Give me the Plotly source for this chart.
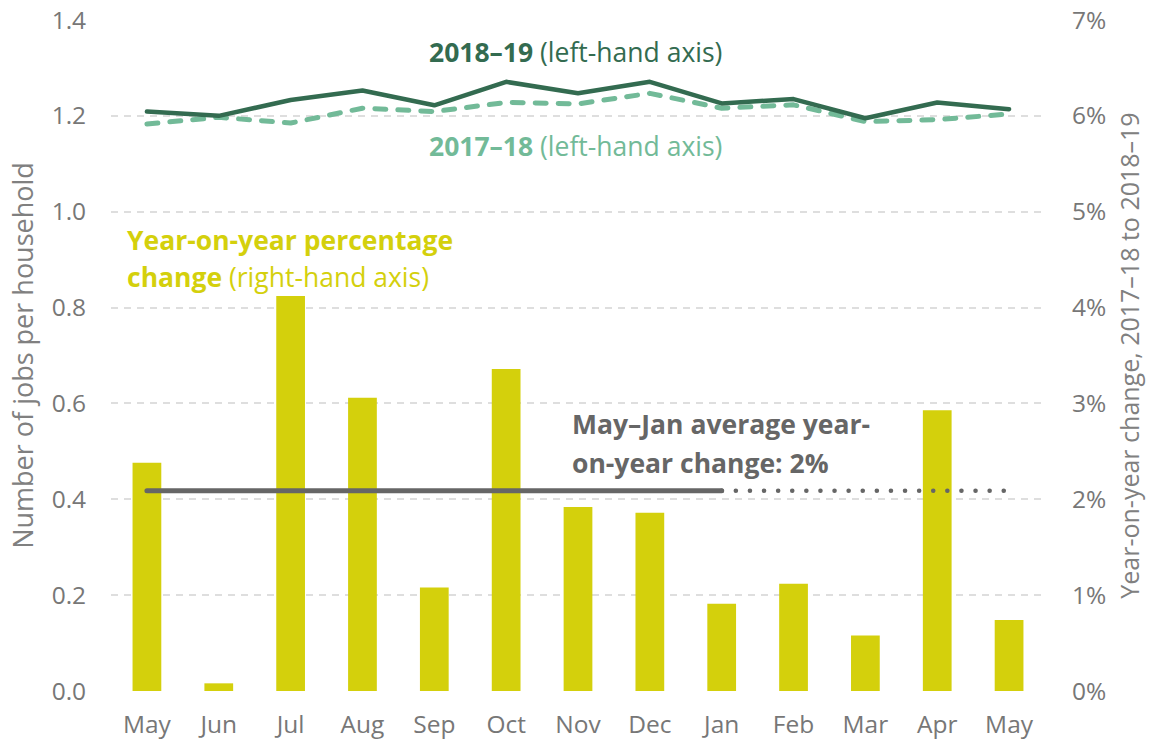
import plotly.graph_objects as go

months = ["May", "Jun", "Jul", "Aug", "Sep", "Oct", "Nov", "Dec", "Jan", "Feb", "Mar", "Apr", "May"]
jobs_2018_19 = [1.209, 1.200, 1.233, 1.253, 1.222, 1.271, 1.247, 1.271, 1.226, 1.235, 1.195, 1.228, 1.214]
jobs_2017_18 = [1.183, 1.197, 1.185, 1.216, 1.209, 1.228, 1.225, 1.247, 1.216, 1.223, 1.188, 1.192, 1.204]
yoy_change = [2.38, 0.08, 4.12, 3.06, 1.08, 3.36, 1.92, 1.86, 0.91, 1.12, 0.58, 2.93, 0.74]
avg_may_jan = 2.09
left_ticks = [0.0, 0.2, 0.4, 0.6, 0.8, 1.0, 1.2, 1.4]
right_ticks = [0, 1, 2, 3, 4, 5, 6, 7]
right_tick_text = ["0%", "1%", "2%", "3%", "4%", "5%", "6%", "7%"]

x = list(range(len(months)))

DARK = "#336b50"
LIGHT = "#72ba98"
YELLOW = "#d4d00c"
GREY = "#666666"
TICK = "#777777"
FONT = "Open Sans, Noto Sans, sans-serif"

fig = go.Figure()

fig.add_trace(go.Bar(x=x, y=yoy_change, yaxis="y2", marker=dict(color=YELLOW, line=dict(width=0)),
                     showlegend=False))
fig.add_trace(go.Scatter(x=x[:9], y=[avg_may_jan] * 9, yaxis="y2", mode="lines",
                         line=dict(color=GREY, width=5), showlegend=False))
fig.add_trace(go.Scatter(x=x[8:], y=[avg_may_jan] * 5, yaxis="y2", mode="lines",
                         line=dict(color=GREY, width=4.5, dash="0.1px,14px"), showlegend=False))
fig.add_trace(go.Scatter(x=x, y=jobs_2017_18, mode="lines",
                         line=dict(color=LIGHT, width=5, dash="11px,12px"), showlegend=False))
fig.add_trace(go.Scatter(x=x, y=jobs_2018_19, mode="lines",
                         line=dict(color=DARK, width=4.5), showlegend=False))

annotations = [
    dict(x=5.96, y=1.333, xref="x", yref="y", text="<b>2018–19</b> (left-hand axis)",
         font=dict(color=DARK, size=26.5, family=FONT), showarrow=False, xanchor="center", yanchor="middle"),
    dict(x=5.96, y=1.137, xref="x", yref="y", text="<b>2017–18</b> (left-hand axis)",
         font=dict(color=LIGHT, size=26.5, family=FONT), showarrow=False, xanchor="center", yanchor="middle"),
    dict(x=-0.30, y=0.941, xref="x", yref="y", text="<b>Year-on-year percentage</b>",
         font=dict(color=YELLOW, size=26.5, family=FONT), showarrow=False, xanchor="left", yanchor="middle"),
    dict(x=-0.30, y=0.864, xref="x", yref="y", text="<b>change</b> (right-hand axis)",
         font=dict(color=YELLOW, size=26.5, family=FONT), showarrow=False, xanchor="left", yanchor="middle"),
    dict(x=5.89, y=2.785, xref="x", yref="y2", text="<b>May–Jan average year-</b>",
         font=dict(color=GREY, size=26.5, family=FONT), showarrow=False, xanchor="left", yanchor="middle"),
    dict(x=5.89, y=2.378, xref="x", yref="y2", text="<b>on-year change: 2%</b>",
         font=dict(color=GREY, size=26.5, family=FONT), showarrow=False, xanchor="left", yanchor="middle"),
]

fig.update_layout(
    width=1153, height=742,
    margin=dict(l=111, r=108, t=20, b=51),
    paper_bgcolor="white", plot_bgcolor="white",
    font=dict(family=FONT, color=TICK),
    bargap=0.6,
    annotations=annotations,
    xaxis=dict(range=[-0.5, 12.5], tickmode="array", tickvals=x, ticktext=months,
               showgrid=False, zeroline=False, showline=False, automargin=False,
               ticks="outside", ticklen=12, tickcolor="rgba(0,0,0,0)",
               tickfont=dict(size=24.5, color=TICK, family=FONT)),
    yaxis=dict(range=[0, 1.4], tickmode="array", tickvals=left_ticks,
               ticktext=[f"{v:.1f}" for v in left_ticks],
               showgrid=True, gridcolor="#dedede", gridwidth=1.5, griddash="7px,6px",
               zeroline=False, showline=False, automargin=False,
               ticks="outside", ticklen=19, tickcolor="rgba(0,0,0,0)",
               tickfont=dict(size=24.5, color=TICK, family=FONT),
               title=dict(text="Number of jobs per household", standoff=10,
                          font=dict(size=27, color="#808080", family=FONT))),
    yaxis2=dict(range=[0, 7], overlaying="y", side="right", tickmode="array",
                tickvals=right_ticks, ticktext=right_tick_text,
                showgrid=False, zeroline=False, showline=False, automargin=False,
                ticks="outside", ticklen=21, tickcolor="rgba(0,0,0,0)",
                tickfont=dict(size=24.5, color=TICK, family=FONT),
                title=dict(text="Year-on-year change, 2017–18 to 2018–19", standoff=16,
                           font=dict(size=25, color="#808080", family=FONT))),
)

fig.write_html(
    "out.html",
    config={"displayModeBar": False},
    post_script=(
        "document.body.style.margin='0';document.body.style.overflow='hidden';"
        "document.querySelectorAll('.scatterlayer path.js-line').forEach(function(p){"
        "p.style.strokeLinecap='round';p.style.strokeLinejoin='round';});"
    ),
)
